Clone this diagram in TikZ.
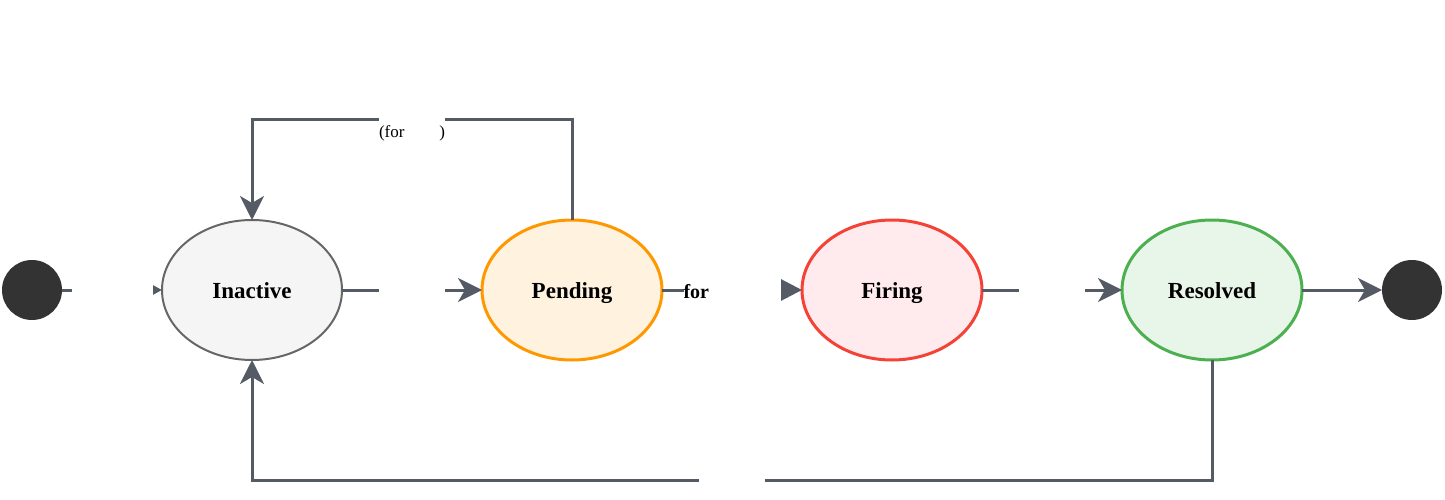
\documentclass[tikz,border=0pt]{standalone}
\usepackage{fontspec}
\setmainfont{Liberation Serif}
\usepackage{xcolor}
\usetikzlibrary{positioning, arrows.meta, shapes.geometric}

\definecolor{edgegray}{HTML}{545B64}
\definecolor{dotgray}{HTML}{333333}
\definecolor{inactfill}{HTML}{F5F5F5}
\definecolor{inactdraw}{HTML}{666666}
\definecolor{pendfill}{HTML}{FFF3E0}
\definecolor{penddraw}{HTML}{FF9800}
\definecolor{firefill}{HTML}{FFEBEE}
\definecolor{firedraw}{HTML}{F44336}
\definecolor{resfill}{HTML}{E8F5E9}
\definecolor{resdraw}{HTML}{4CAF50}

\begin{document}
\begin{tikzpicture}[
  x=1pt, y=-1pt,
  node distance=140pt,
  state/.style={ellipse, draw, line width=3pt, outer sep=0pt, inner sep=0pt,
                minimum width=180pt, minimum height=140pt,
                text height=18pt, text depth=2pt,
                font=\fontsize{23}{28}\selectfont\bfseries},
  dot/.style={circle, fill=dotgray, minimum size=60pt, inner sep=0pt, outer sep=0pt},
  arr/.style={-{Stealth[length=24pt, width=24pt, inset=7pt]}, line width=3pt, draw=edgegray},
  lbl/.style={fill=white, inner sep=0pt, minimum width=66pt, minimum height=28pt},
]
\useasboundingbox (0,0) rectangle (1445,500);

\node[state, fill=inactfill, draw=inactdraw, line width=2pt] (inactive) at (252,290) {Inactive};
\node[dot, left=100pt of inactive] (start) {};
\node[state, fill=pendfill, draw=penddraw, right=of inactive] (pending) {Pending};
\node[state, fill=firefill, draw=firedraw, right=of pending] (firing) {Firing};
\node[state, fill=resfill, draw=resdraw, right=of firing] (resolved) {Resolved};
\node[dot, right=80pt of resolved] (end) {};

\draw[arr, -{Triangle[length=9pt, width=9pt]}] (start) -- node[lbl, minimum width=81pt]{} (inactive);
\draw[arr] (inactive) -- node[lbl]{} (pending);
\draw[arr, -{Triangle[length=21pt, width=21pt]}] (pending) -- node[lbl, text width=97pt, align=left,
  text height=16pt, text depth=0pt, font=\fontsize{20}{24}\selectfont\bfseries]{for} (firing);
\draw[arr] (firing) -- node[lbl]{} (resolved);
\draw[arr] (resolved) -- (end);

% loops back to inactive
\draw[arr] (pending.north) -- ++(0,-100) -| node[pos=.25, lbl, minimum height=34pt, yshift=-13pt,
  font=\fontsize{17}{20}\selectfont]{\makebox[66pt]{(for\hfill)}} (inactive.north);
\draw[arr] (resolved.south) -- ++(0,120) -| node[pos=.25, lbl]{} (inactive.south);
\end{tikzpicture}
\end{document}
